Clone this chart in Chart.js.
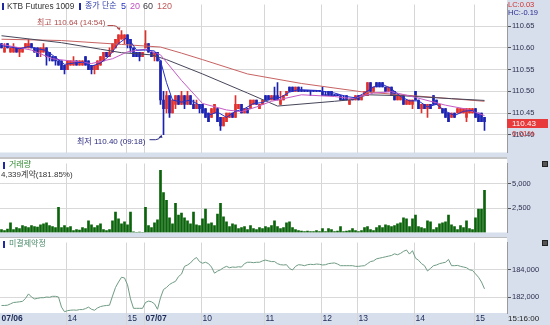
<!DOCTYPE html>
<html>
<head>
<meta charset="utf-8">
<script src="https://cdn.jsdelivr.net/npm/chart.js@4.4.1/dist/chart.umd.min.js"></script>
<style>
  body { margin: 0; width: 550px; height: 325px; position: relative; overflow: hidden; background: #d6dfeb;
         font-family: "Liberation Sans", Arial, "Noto Sans CJK KR", sans-serif; }
  canvas { position: absolute; left: 0; }
  .t { position: absolute; font-size: 8px; line-height: 10px; white-space: nowrap; }
  .mk { position: absolute; width: 2px; height: 7px; background: #1f2aa0; }
  .sep { position: absolute; left: 0; width: 507px; }
  .ico { position: absolute; width: 4px; height: 4px; border: 1px solid #222; background: #555; }
</style>
</head>
<body>
<canvas id="priceChart" width="550" height="157" style="top:0"></canvas>
<div class="sep" style="top:157px;height:2px;background:#c4c4c4"></div>
<canvas id="volChart" width="550" height="78" style="top:159px"></canvas>
<div class="sep" style="top:237px;height:1px;background:#bdbdbd"></div>
<canvas id="oiChart" width="550" height="87" style="top:238px"></canvas>

<!-- price panel texts -->
<div class="mk" style="left:2px;top:3px"></div>
<div class="t" style="left:7px;top:1px;font-size:8.3px;color:#333">KTB Futures 1009</div>
<div class="mk" style="left:79px;top:3px"></div>
<div class="t" style="left:85px;top:1px;color:#2b3aa6">종가 단순</div>
<div class="t" style="left:121px;top:1px;font-size:9px;color:#2430c0">5</div>
<div class="t" style="left:130px;top:1px;font-size:9px;color:#c050c0">20</div>
<div class="t" style="left:143px;top:1px;font-size:9px;color:#404048">60</div>
<div class="t" style="left:157px;top:1px;font-size:9px;color:#c05a5a">120</div>
<div class="t" style="left:37px;top:18px;color:#b04848">최고 110.64 (14:54)</div>
<div class="t" style="left:77px;top:137px;color:#2a2a80">최저 110.40 (09:18)</div>
<div class="t" style="left:508px;top:0px;font-size:7.5px;color:#d03030">LC:0.03</div>
<div class="t" style="left:508px;top:8px;font-size:7.5px;color:#2a2a90">HC:-0.19</div>
<div class="t" style="left:507px;top:119px;width:41px;height:9px;line-height:9px;background:#e83a3a;color:#fff;padding-left:5px;box-sizing:border-box">110.43</div>
<div class="t" style="left:512px;top:129px;color:#d03030">0.01%</div>

<!-- volume panel texts -->
<div class="mk" style="left:3px;top:162px"></div>
<div class="t" style="left:9px;top:160px;color:#2f8a2f">거래량</div>
<div class="t" style="left:1px;top:170px;color:#333">4,339계약(181.85%)</div>
<div class="ico" style="left:542px;top:161px"></div>

<!-- open interest panel texts -->
<div class="mk" style="left:3px;top:241px"></div>
<div class="t" style="left:9px;top:239px;color:#4a8a6a">미결제약정</div>
<div class="ico" style="left:542px;top:240px"></div>
<div class="t" style="left:508px;top:314px;color:#222">15:16:00</div>

<script>
// 3-minute bars, 07/06 12:54 .. 07/07 15:15, prices in 0.01 ticks above 110.00
var openTicks = [
  61,59,61,59,59,60,59,59,60,60, 61,60,60,59,59,60,59,58,58,57,
  57,56,55,56,56,57,56,56,58,57, 56,55,55,56,57,59,58,59,60,61,
  62,62,63,62,60,59,59,58,60,61, 59,58,59,57,48,46,49,45,47,49,
  47,49,47,49,47,46,47,47,46,45, 44,45,46,44,42,43,44,45,44,46,
  47,45,46,46,47,48,46,47,49,49, 48,49,49,47,48,49,51,51,50,51,
  50,50,50,50,50,50,50,50,49,50, 50,49,49,49,48,49,47,48,48,49,
  48,49,49,52,50,52,52,52,51,50, 51,50,48,48,49,47,47,47,50,48,
  46,47,46,47,49,48,46,46,46,45, 44,45,45,45,45,44,45,45,46,45,
  45,44
];
var closeTicks = [
  60,60,60,60,60,59,60,60,61,61, 60,59,58,60,60,58,58,57,57,56,
  55,55,57,57,57,56,57,57,56,55, 55,56,57,58,59,58,59,61,62,63,
  63,63,61,60,58,58,58,59,61,59, 58,59,57,48,46,49,45,48,49,47,
  49,47,49,47,46,47,46,45,44,43, 46,47,43,42,44,45,45,44,47,47,
  45,46,45,48,48,47,47,48,48,48, 49,48,48,48,49,50,50,50,51,50,
  50,50,50,50,50,50,50,49,49,49, 49,49,49,48,48,48,48,48,49,48,
  49,50,52,50,51,51,51,51,50,51, 49,48,49,49,47,48,48,48,48,46,
  47,46,47,46,47,47,47,45,44,43, 45,44,46,46,46,46,46,46,44,43,
  43,43
];
var highTicks = [
  61,61,61,60,61,60,60,60,61,62, 61,60,60,60,61,60,59,58,58,57,
  57,56,57,57,58,57,57,57,58,57, 56,56,57,58,59,59,60,61,62,63,
  64,63,63,62,60,59,59,59,64,61, 59,59,59,57,50,50,49,48,49,49,
  50,49,50,49,48,48,47,47,46,45, 46,47,46,44,44,45,45,45,49,47,
  47,46,46,48,48,48,47,48,49,49, 49,51,52,50,49,50,51,51,51,51,
  51,50,50,50,50,50,50,51,50,50, 50,49,49,49,49,49,48,48,49,49,
  49,50,52,52,51,52,52,52,51,51, 51,50,49,49,49,48,48,48,50,48,
  47,47,47,47,49,48,47,46,46,45, 45,45,46,46,46,46,46,46,46,45,
  45,44
];
var lowTicks = [
  60,59,60,59,59,59,58,59,60,60, 60,59,58,58,59,56,57,57,56,56,
  55,54,55,56,56,56,56,56,56,55, 54,54,55,56,57,58,58,59,60,61,
  62,61,60,59,58,58,57,58,60,59, 58,57,57,47,40,45,44,45,46,47,
  47,46,47,47,46,46,45,45,44,43, 44,45,43,41,42,43,44,44,44,46,
  45,45,45,46,47,47,46,47,48,48, 48,48,48,47,48,49,50,50,50,50,
  50,50,50,49,50,50,50,49,49,49, 49,49,49,48,48,48,47,48,48,48,
  48,49,49,50,50,51,51,51,50,50, 49,48,48,48,47,47,47,46,48,46,
  45,46,44,46,47,47,46,45,44,43, 44,44,45,45,45,43,45,45,44,43,
  43,41
];
// moving averages: [bar index, price]
var ma5 = [[0,110.605],[3,110.602],[6,110.598],[9,110.603],[12,110.598],[15,110.594],[18,110.578],[21,110.562],
  [24,110.565],[27,110.567],[30,110.558],[33,110.565],[36,110.582],[39,110.61],[42,110.625],[45,110.595],
  [48,110.595],[51,110.593],[53,110.57],[55,110.52],[57,110.48],[60,110.475],[63,110.48],[66,110.468],
  [69,110.445],[72,110.452],[75,110.44],[78,110.454],[81,110.46],[84,110.472],[87,110.474],[90,110.484],
  [93,110.486],[96,110.498],[99,110.504],[105,110.502],[111,110.496],[115,110.488],[118,110.485],[121,110.496],
  [124,110.51],[127,110.516],[130,110.506],[133,110.488],[136,110.478],[139,110.478],[142,110.464],[145,110.47],
  [148,110.454],[151,110.444],[154,110.454],[157,110.456],[160,110.438],[161,110.433]];
var ma20 = [[0,110.608],[10,110.595],[17,110.575],[30,110.564],[37,110.575],[42,110.591],[48,110.597],[53,110.584],
  [60,110.525],[67,110.472],[75,110.457],[80,110.453],[85,110.464],[90,110.477],[100,110.492],[111,110.488],
  [117,110.483],[124,110.496],[130,110.499],[138,110.486],[148,110.468],[155,110.459],[161,110.444]];
var ma60 = [[0,110.628],[20,110.612],[33,110.597],[40,110.589],[50,110.584],[55,110.573],[67,110.54],[82,110.496],
  [92,110.466],[111,110.477],[117,110.481],[122,110.492],[133,110.49],[150,110.483],[161,110.479]];
var ma120 = [[0,110.62],[20,110.617],[40,110.608],[53,110.602],[60,110.588],[67,110.573],[82,110.54],[100,110.518],
  [120,110.499],[133,110.492],[150,110.483],[161,110.477]];

var volumes = [
  300,200,350,1000,300,500,400,700,600,500, 700,600,550,800,900,1000,700,600,500,2600,
  500,700,500,600,200,300,250,500,400,1200, 800,500,700,900,300,200,300,1200,2100,1400,
  900,1100,800,2100,60,30,40,30,2600,700, 500,1000,1300,6400,4100,3300,1500,900,3000,1800,
  2000,1500,1200,900,2100,800,700,1400,2400,900, 1000,700,1900,3000,1600,1100,600,900,800,400,
  500,600,300,700,400,300,500,400,600,500, 700,1200,600,400,500,1000,1100,500,300,200,
  150,100,150,100,100,200,100,400,100,400, 300,100,150,600,100,150,200,400,200,100,
  200,500,600,300,200,500,700,500,800,700, 600,700,900,1000,1500,1400,600,1400,1800,600,
  500,400,1200,1100,300,500,900,1000,1100,1800, 800,600,300,700,500,1200,400,300,1500,2400,
  2400,4339
];
var openInterest = [
  181380,181380,181400,181500,181600,181620,181650,181680,181900,182230,
  182000,181860,181900,181950,181950,182000,181980,182050,182050,182000,
  181260,180920,181000,181030,181050,181030,181080,181080,181150,181260,
  181100,181030,181200,181300,181350,181380,181400,182070,182700,183100,
  183450,183400,182900,181860,181170,181170,181170,181170,181600,181700,
  181650,181500,181100,181950,182550,182700,182920,183050,183150,183500,
  183680,184250,184350,184500,184750,184900,184600,184480,184550,184450,
  184200,183750,183900,184000,184150,184250,184150,184200,184180,184220,
  184200,184450,184550,184550,184520,184550,184550,184650,184710,184650,
  184600,184600,184450,184370,184350,184370,184100,183980,184250,184370,
  184350,184300,184370,184400,184380,184420,184400,184350,184370,184450,
  184480,184500,184420,184300,184300,184300,184300,184300,184250,184250,
  184280,184300,184450,184600,184650,184800,184850,184900,184950,185000,
  185050,185170,185100,185200,185350,185450,185150,185400,184850,184700,
  184450,184300,183910,184100,184300,184350,184450,184500,184550,184760,
  184300,184300,184320,184250,184200,184150,184000,183950,183700,183450,
  183100,182600
];

var slotCount = 169;
var tickSlots = [0, 22, 42, 48, 67, 88, 107, 119, 138, 158];
var tickLabels = ['07/06', '14', '15', '07/07', '10', '11', '12', '13', '14', '15'];
var priceTicks = [110.40, 110.45, 110.50, 110.55, 110.60, 110.65];
var volumeTicks = [2500, 5000];
var oiTicks = [182000, 184000];

var slots = [];
for (var s = 0; s < slotCount; s++) slots.push(s);
function toPrice(t) { return Math.round((110 + t / 100) * 100) / 100; }
function pts(list) { return list.map(function (p) { return {x: p[0], y: p[1]}; }); }

var UP = '#e0302c', DOWN = '#1c22b0';
var candleColors = openTicks.map(function (o, i) { return closeTicks[i] > o ? UP : DOWN; });
var bodyData = openTicks.map(function (o, i) { return [toPrice(o), toPrice(closeTicks[i])]; });
var wickData = lowTicks.map(function (l, i) { return [toPrice(l), toPrice(highTicks[i])]; });

var FONT = '"Liberation Sans", Arial, sans-serif';
var CLEAR = 'rgba(0,0,0,0)';

function timeAxis(showLabels) {
  var gridColor = function (c) { return tickSlots.indexOf(c.index) > 0 ? '#d6d6d6' : CLEAR; };
  return {
    type: 'category',
    offset: true,
    grid: { offset: true, color: gridColor, drawTicks: showLabels, tickLength: 12, tickColor: gridColor },
    border: { display: false },
    ticks: {
      display: showLabels, autoSkip: false, maxRotation: 0, minRotation: 0,
      align: 'start', padding: -11, color: '#1b2856',
      font: function (c) {
        var k = tickSlots.indexOf(c.index);
        return { family: FONT, size: 8.5, weight: k >= 0 && tickLabels[k].indexOf('/') > 0 ? 'bold' : 'normal' };
      },
      callback: function (v, i) { var k = tickSlots.indexOf(i); return k < 0 ? '' : tickLabels[k]; }
    },
    afterFit: function (scale) { scale.height = showLabels ? 12 : 0; }
  };
}

function valueAxis(min, max, ticks, fmt) {
  var shown = function (c) { return c.tick && ticks.indexOf(c.tick.value) >= 0; };
  return {
    position: 'right', min: min, max: max,
    afterBuildTicks: function (scale) {
      scale.ticks = [min].concat(ticks, [max]).map(function (v) { return {value: v}; });
    },
    afterFit: function (scale) { scale.width = 43; },
    grid: {
      color: function (c) { return shown(c) ? '#d9d9d9' : CLEAR; },
      tickColor: function (c) { return shown(c) ? '#555' : CLEAR; },
      tickLength: 5, tickBorderDash: [3, 3]
    },
    border: { color: '#9a9a9a' },
    ticks: {
      padding: 0, color: '#2e2e50', font: { family: FONT, size: 7.5 },
      callback: function (v) { return ticks.indexOf(v) >= 0 ? fmt(v) : null; }
    }
  };
}

var panelBg = {
  id: 'panelBg',
  beforeDraw: function (chart) {
    var ctx = chart.ctx, a = chart.chartArea;
    ctx.save();
    ctx.fillStyle = '#ffffff';
    ctx.fillRect(0, 0, chart.width, chart.height);
    ctx.fillStyle = '#d6dfeb';
    ctx.fillRect(a.right, 0, chart.width - a.right, chart.height);
    ctx.fillRect(0, a.bottom, chart.width, chart.height - a.bottom);
    ctx.restore();
  }
};

function drawArrow(ctx, px, py, dir, color) {
  var sy = py + dir * 5;
  ctx.save();
  ctx.strokeStyle = color; ctx.fillStyle = color; ctx.lineWidth = 1;
  ctx.beginPath();
  ctx.moveTo(px - 14, sy); ctx.lineTo(px - 8, sy);
  ctx.quadraticCurveTo(px - 4, sy, px - 3, py + dir * 1.5);
  ctx.stroke();
  ctx.beginPath();
  ctx.moveTo(px - 2, py); ctx.lineTo(px - 5, py + dir * 3); ctx.lineTo(px - 1, py + dir * 3); ctx.closePath();
  ctx.fill();
  ctx.restore();
}

var extremeArrows = {
  id: 'extremeArrows',
  afterDatasetsDraw: function (chart) {
    var x = chart.scales.x, y = chart.scales.y;
    var hi = highTicks.indexOf(Math.max.apply(null, highTicks));
    var lo = lowTicks.indexOf(Math.min.apply(null, lowTicks));
    drawArrow(chart.ctx, x.getPixelForValue(hi), y.getPixelForValue(toPrice(highTicks[hi])), -1, '#b04848');
    drawArrow(chart.ctx, x.getPixelForValue(lo), y.getPixelForValue(toPrice(lowTicks[lo])), 1, '#2a2a80');
  }
};

var common = {
  responsive: false,
  animation: false,
  events: [],
  layout: { padding: 0 },
  plugins: { legend: { display: false }, tooltip: { enabled: false } }
};

function maLine(list, color, order) {
  return { type: 'line', data: pts(list), borderColor: color, borderWidth: 1, pointRadius: 0, tension: 0, order: order };
}

new Chart(document.getElementById('priceChart'), {
  type: 'bar',
  data: {
    labels: slots,
    datasets: [
      { data: wickData, backgroundColor: candleColors, barThickness: 1, grouped: false, minBarLength: 1, order: 5 },
      { data: bodyData, backgroundColor: candleColors, barThickness: 2, grouped: false, minBarLength: 1, order: 4 },
      maLine(ma120, '#c86262', 3),
      maLine(ma60, '#46465a', 2),
      maLine(ma20, '#c65ac6', 1),
      maLine(ma5, '#2630c8', 0)
    ]
  },
  options: Object.assign({}, common, {
    scales: {
      x: timeAxis(false),
      y: valueAxis(110.359, 110.70, priceTicks, function (v) { return v.toFixed(2); })
    }
  }),
  plugins: [panelBg, extremeArrows]
});

new Chart(document.getElementById('volChart'), {
  type: 'bar',
  data: {
    labels: slots,
    datasets: [{ data: volumes, backgroundColor: '#0b640b', barThickness: 2 }]
  },
  options: Object.assign({}, common, {
    scales: {
      x: timeAxis(false),
      y: valueAxis(0, 7100, volumeTicks, function (v) { return v.toLocaleString('en-US'); })
    }
  }),
  plugins: [panelBg]
});

new Chart(document.getElementById('oiChart'), {
  type: 'line',
  data: {
    labels: slots,
    datasets: [{ data: openInterest, borderColor: '#6f9b83', borderWidth: 1, pointRadius: 0, tension: 0 }]
  },
  options: Object.assign({}, common, {
    scales: {
      x: timeAxis(true),
      y: valueAxis(180828, 186000, oiTicks, function (v) { return v.toLocaleString('en-US'); })
    }
  }),
  plugins: [panelBg]
});
</script>
</body>
</html>
